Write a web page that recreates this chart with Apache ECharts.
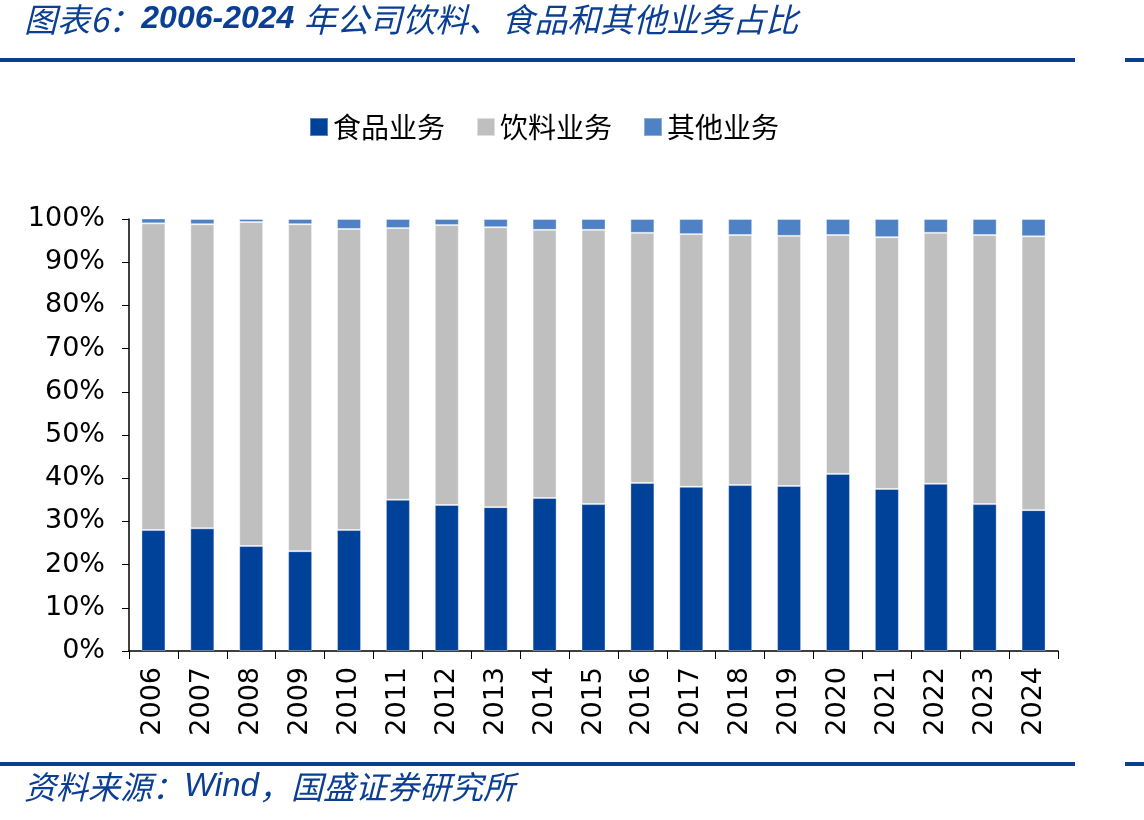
<!DOCTYPE html>
<html>
<head>
<meta charset="utf-8">
<script src="https://cdn.jsdelivr.net/npm/echarts@6/dist/echarts.min.js"></script>
<style>
  html, body { margin: 0; padding: 0; background: #fff; }
  #chart { width: 1144px; height: 820px; }
</style>
</head>
<body>
<div id="chart"></div>
<script>
// 年份
var years = ['2006','2007','2008','2009','2010','2011','2012','2013','2014','2015',
             '2016','2017','2018','2019','2020','2021','2022','2023','2024'];
// 食品业务占比(%)
var food = [28.0, 28.4, 24.3, 23.1, 28.0, 35.0, 33.8, 33.3, 35.4, 34.0,
            38.9, 38.0, 38.4, 38.2, 41.0, 37.5, 38.7, 34.0, 32.6];
// 其他业务占比(%)
var other = [1.2, 1.2, 0.7, 1.2, 2.3, 2.1, 1.4, 1.9, 2.5, 2.5,
             3.2, 3.5, 3.7, 3.9, 3.7, 4.2, 3.2, 3.7, 4.0];
// 饮料业务 = 剩余部分
var drink = [71.0, 70.4, 75.0, 75.7, 69.7, 62.9, 64.8, 64.8, 62.1, 63.5,
             57.9, 58.5, 57.9, 57.9, 55.3, 58.3, 58.1, 62.3, 63.4];

var blue = '#0B3F94';
var myChart = echarts.init(document.getElementById('chart'));

var option = {
  animation: false,
  textStyle: { fontFamily: 'DejaVu Sans' },
  graphic: [
    { type: 'text', left: 24, top: 3,
      style: {
        text: '{a|图表6：}{b|2006-2024 }{a|年公司饮料、食品和其他业务占比}',
        rich: {
          a: { fontFamily: 'Noto Sans CJK SC', fontSize: 33, fontStyle: 'italic', fill: blue },
          b: { fontFamily: 'Liberation Sans', fontSize: 32, fontStyle: 'italic', fontWeight: 'bold', fill: blue }
        }
      } },
    { type: 'rect', shape: { x: 0, y: 58, width: 1075, height: 4 }, style: { fill: blue } },
    { type: 'rect', shape: { x: 1125, y: 58, width: 19, height: 4 }, style: { fill: blue } },
    { type: 'rect', shape: { x: 0, y: 762, width: 1075, height: 4 }, style: { fill: blue } },
    { type: 'rect', shape: { x: 1125, y: 762, width: 19, height: 4 }, style: { fill: blue } },
    { type: 'text', left: 24, top: 770,
      style: {
        text: '{a|资料来源：}{b|Wind}{a|，国盛证券研究所}',
        rich: {
          a: { fontFamily: 'Noto Sans CJK SC', fontSize: 32, fontStyle: 'italic', fill: blue },
          b: { fontFamily: 'Liberation Sans', fontSize: 33, fontStyle: 'italic', fill: blue }
        }
      } }
  ],
  legend: {
    top: 108,
    left: 304,
    itemWidth: 18,
    itemHeight: 18,
    itemGap: 31,
    icon: 'rect',
    textStyle: { fontFamily: 'Noto Sans CJK SC', fontSize: 28, color: '#000', padding: [0, 0, 0, 0] },
    data: ['食品业务', '饮料业务', '其他业务']
  },
  grid: { left: 129, right: 86, top: 219, bottom: 169 },
  xAxis: {
    type: 'category',
    data: years,
    axisLine: { lineStyle: { color: '#000', width: 1.5 } },
    axisTick: { show: true, length: 8, lineStyle: { color: '#000' } },
    axisLabel: { rotate: 90, color: '#000', fontSize: 27, margin: 16, fontFamily: 'DejaVu Sans' }
  },
  yAxis: {
    type: 'value',
    min: 0, max: 100, interval: 10,
    splitLine: { show: false },
    axisLine: { show: true, lineStyle: { color: '#000', width: 1.5 } },
    axisTick: { show: true, length: 7, lineStyle: { color: '#000' } },
    axisLabel: { color: '#000', fontSize: 27, margin: 24, formatter: '{value}%', fontFamily: 'DejaVu Sans' }
  },
  series: [
    { name: '食品业务', type: 'bar', stack: 'a', data: food, barWidth: 24,
      itemStyle: { color: '#00419A', borderColor: 'rgba(255,255,255,0.35)', borderWidth: 1 } },
    { name: '饮料业务', type: 'bar', stack: 'a', data: drink, barWidth: 24,
      itemStyle: { color: '#BFBFBF', borderColor: 'rgba(255,255,255,0.5)', borderWidth: 1 } },
    { name: '其他业务', type: 'bar', stack: 'a', data: other, barWidth: 24,
      itemStyle: { color: '#4F82C4', borderColor: 'rgba(255,255,255,0.35)', borderWidth: 1 } }
  ]
};
myChart.setOption(option);
</script>
</body>
</html>
